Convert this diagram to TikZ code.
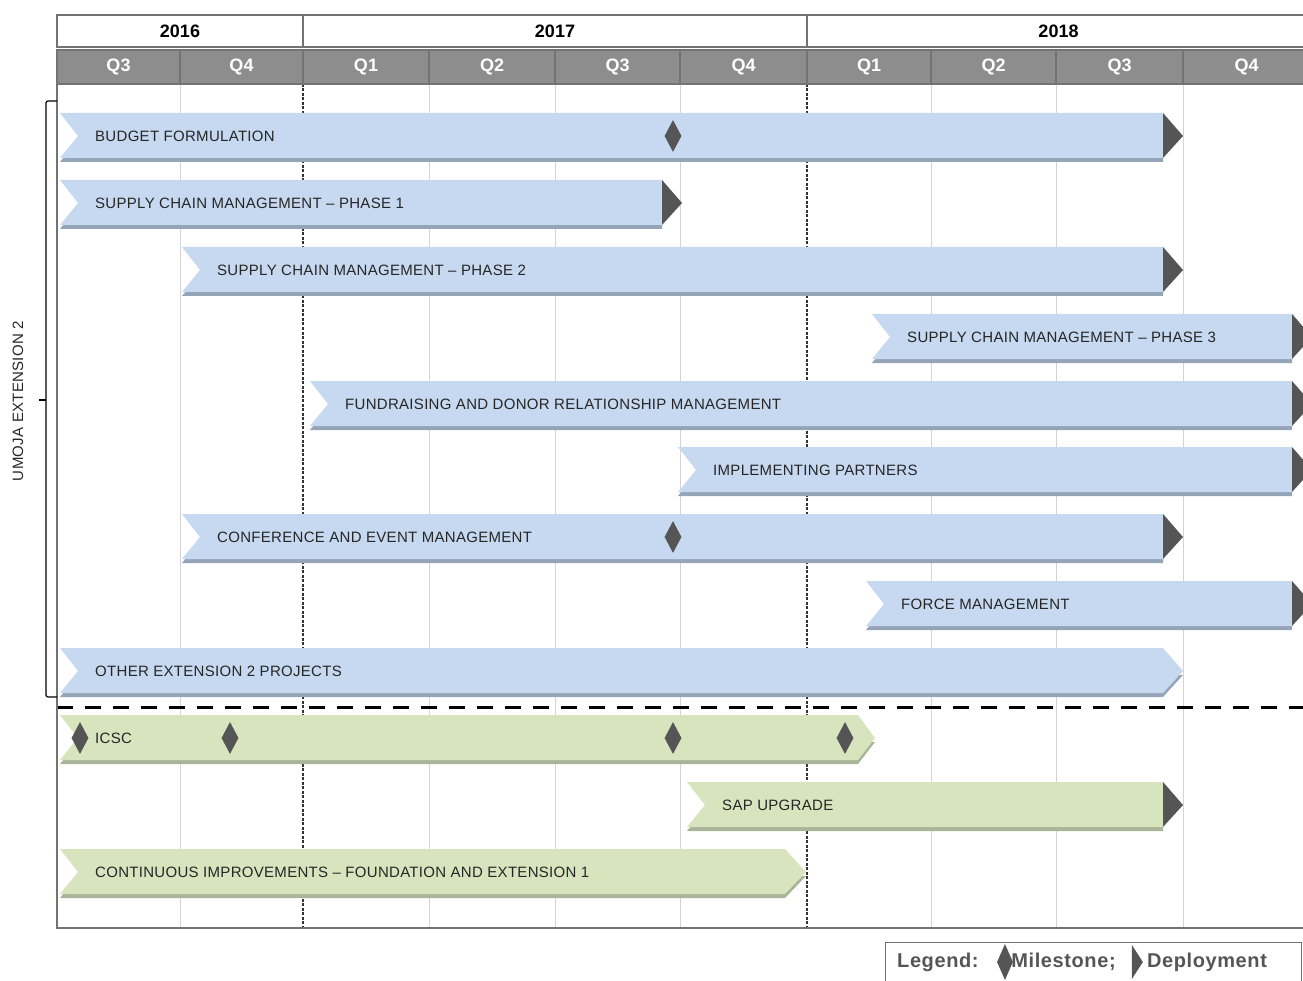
\documentclass[tikz,border=0pt]{standalone}
\usepackage{fontspec}
\setmainfont{Liberation Sans}
\newfontfamily\barfont[LetterSpace=2]{Liberation Sans}
\newfontfamily\legendfont[LetterSpace=3]{Liberation Sans}
\usepackage{xcolor}
\usepackage{tikz}
\usetikzlibrary{shapes.geometric, positioning}
\definecolor{barblue}{RGB}{198, 217, 240}
\definecolor{barblueshade}{RGB}{150, 164, 184}
\definecolor{bargreen}{RGB}{215, 228, 190}
\definecolor{bargreenshade}{RGB}{170, 180, 152}
\definecolor{headgray}{RGB}{141, 141, 141}
\definecolor{framegray}{RGB}{115, 115, 115}
\definecolor{markgray}{RGB}{85, 85, 85}
\definecolor{gridgray}{RGB}{212, 212, 212}

% task bar: name, row, start, end, tip, colour, label
\newcommand{\taskbar}[7]{%
  \fill[#6shade] (#3+18,#2+4) -- (#4+#5,#2+4) -- (#4,#2+26) -- (#3,#2+26) -- cycle;
  \fill[#6] (#3,#2-23) -- (#4,#2-23) -- (#4+#5,#2) -- (#4,#2+22)
    -- (#3,#2+22) -- (#3+18,#2) -- cycle;
  \node[barlabel] (#1) at (#3+35,#2) {#7};}
% deployment end: row, end
\newcommand{\deploy}[2]{%
  \fill[markgray] (#2,#1-23) -- (#2+20,#1) -- (#2,#1+22) -- cycle;}

\begin{document}
\begin{tikzpicture}[
    x=1pt, y=-1pt,
    barlabel/.style={anchor=west, inner sep=0pt, text=black!85,
                     font=\barfont\fontsize{15}{18}\selectfont},
    milestone/.style={diamond, fill=markgray, minimum width=17pt,
                      minimum height=32pt, inner sep=0pt},
    yearcell/.style={draw=framegray, fill=white, line width=2.5pt},
    quartercell/.style={draw=framegray, fill=headgray, line width=2pt},
    yearlabel/.style={font=\bfseries\fontsize{18}{20}\selectfont},
    quarterlabel/.style={text=white, font=\bfseries\fontsize{18}{20}\selectfont},
    grid/.style={gridgray, line width=1pt},
    yearline/.style={black!80, line width=1.3pt, dash pattern=on 3pt off 1.5pt},
    legendtext/.style={inner sep=0pt, text=markgray,
                       font=\legendfont\bfseries\fontsize{20}{24}\selectfont}
]
    \useasboundingbox (0,0) rectangle (1303,981);
    \clip (0,0) rectangle (1303,981);

    % Grid
    \foreach \x in {180,429,555,680,931,1056,1183}
        \draw[grid] (\x,84) -- (\x,928);
    \foreach \x in {303,807}
        \draw[yearline] (\x,84) -- (\x,928);

    % Umoja Extension 2
    \taskbar{budget}{136}{60}{1163}{0}{barblue}{BUDGET FORMULATION}
    \deploy{136}{1163}
    \node[milestone] (budget-ms) at (673,136) {};

    \taskbar{scm1}{203}{60}{662}{0}{barblue}{SUPPLY CHAIN MANAGEMENT – PHASE 1}
    \deploy{203}{662}

    \taskbar{scm2}{270}{182}{1163}{0}{barblue}{SUPPLY CHAIN MANAGEMENT – PHASE 2}
    \deploy{270}{1163}

    \taskbar{scm3}{337}{872}{1292}{0}{barblue}{SUPPLY CHAIN MANAGEMENT – PHASE 3}
    \deploy{337}{1292}

    \taskbar{fundraising}{404}{310}{1292}{0}{barblue}{FUNDRAISING AND DONOR RELATIONSHIP MANAGEMENT}
    \deploy{404}{1292}

    \taskbar{partners}{470}{678}{1292}{0}{barblue}{IMPLEMENTING PARTNERS}
    \deploy{470}{1292}

    \taskbar{conference}{537}{182}{1163}{0}{barblue}{CONFERENCE AND EVENT MANAGEMENT}
    \deploy{537}{1163}
    \node[milestone] (conference-ms) at (673,537) {};

    \taskbar{force}{604}{866}{1292}{0}{barblue}{FORCE MANAGEMENT}
    \deploy{604}{1292}

    \taskbar{other}{671}{60}{1163}{20}{barblue}{OTHER EXTENSION 2 PROJECTS}

    % Separator
    \draw[black, line width=3pt, dash pattern=on 16pt off 12pt] (57,707) -- (1310,707);

    % Other projects
    \taskbar{icsc}{738}{60}{858}{17}{bargreen}{ICSC}
    \node[milestone] (icsc-ms1) at (80,738) {};
    \node[milestone] (icsc-ms2) at (230,738) {};
    \node[milestone] (icsc-ms3) at (673,738) {};
    \node[milestone] (icsc-ms4) at (845,738) {};

    \taskbar{sap}{805}{687}{1163}{0}{bargreen}{SAP UPGRADE}
    \deploy{805}{1163}

    \taskbar{cip}{872}{60}{785}{21}{bargreen}{CONTINUOUS IMPROVEMENTS – FOUNDATION AND EXTENSION 1}

    % Header
    \foreach \a/\b/\yr in {57/303/2016, 303/807/2017, 807/1310/2018} {
        \draw[yearcell] (\a,15) rectangle (\b,47);
        \node[yearlabel] (year\yr) at ({(\a+\b)/2},31) {\yr};
    }
    \foreach \a/\b/\q [count=\i] in {57/180/Q3, 180/303/Q4, 303/429/Q1, 429/555/Q2,
            555/680/Q3, 680/807/Q4, 807/931/Q1, 931/1056/Q2, 1056/1183/Q3, 1183/1310/Q4} {
        \draw[quartercell] (\a,50) rectangle (\b,84);
        \node[quarterlabel] (quarter\i) at ({(\a+\b)/2},67) {\q};
    }

    % Frame
    \draw[framegray, line width=1.2pt] (57,84) -- (57,928) -- (1310,928);

    % Bracket
    \draw[line width=1.2pt, rounded corners=2pt] (57,101) -- (46,101) -- (46,697) -- (57,697);
    \draw[line width=1.2pt] (46,400) -- (39,400);
    \node[barlabel, anchor=center, rotate=90] (umoja) at (18,401) {UMOJA EXTENSION 2};

    % Legend
    \draw[framegray, line width=1pt] (885,990) -- (885,942) -- (1301,942) -- (1301,990);
    \node[legendtext, anchor=west] (legend) at (897,962) {Legend:};
    \node[milestone, minimum width=16pt, minimum height=36pt, right=18pt of legend] (leg-ms) {};
    \node[legendtext, right=-2pt of leg-ms] (leg-ms-text) {Milestone;};
    \coordinate[right=16pt of leg-ms-text] (leg-dep);
    \fill[markgray] (leg-dep) ++(0,-17) -- ++(11,17) -- ++(-11,17) -- cycle;
    \node[legendtext, right=15pt of leg-dep] (leg-dep-text) {Deployment};
\end{tikzpicture}
\end{document}
